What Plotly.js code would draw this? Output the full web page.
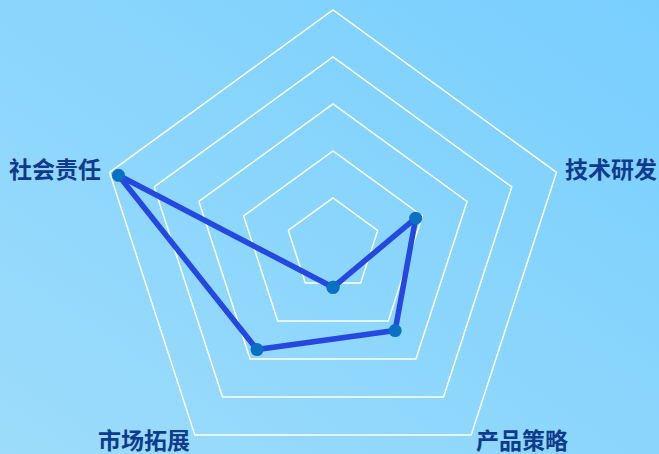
<!DOCTYPE html>
<html>
<head>
<meta charset="utf-8">
<script src="https://cdn.plot.ly/plotly-3.0.1.min.js"></script>
<style>
  html, body { margin: 0; padding: 0; overflow: hidden; }
  body { width: 659px; height: 454px; background: linear-gradient(to top right, #9ddcfb, #78cffe); }
  #radar { width: 659px; height: 480px; }
</style>
</head>
<body>
<div id="radar"></div>
<script>
// radar axes, clockwise from the top (top axis has no visible label)
var categories = [" ", "技术研发", "产品策略", "市场拓展", "社会责任"];
// scores, 0-100 scale (top one sits below the centre)
var scores = [-18, 37, 45, 55, 96];
var radialTicks = [0, 20, 40, 60, 80, 100];

// the category axis clamps negative r to the centre, so the line goes on an
// overlaid numeric polar: a negative score is drawn on the opposite side
var step = 360 / categories.length;
var thetaDeg = [], rAbs = [];
scores.forEach(function (s, i) {
  thetaDeg.push(s < 0 ? i * step + 180 : i * step);
  rAbs.push(Math.abs(s));
});
thetaDeg.push(thetaDeg[0]);
rAbs.push(rAbs[0]);

var line = {
  type: "scatterpolar",
  subplot: "polar2",
  r: rAbs,
  theta: thetaDeg,
  mode: "lines+markers",
  line: {color: "#2448e0", width: 5.5},
  marker: {color: "#0a70c2", size: 13},
  cliponaxis: false,
  hoverinfo: "skip"
};

// category polar needs every category present; an invisible trace carries them
var axisHolder = {
  type: "scatterpolar",
  subplot: "polar",
  r: categories.map(function () { return 0; }),
  theta: categories,
  mode: "markers",
  marker: {size: 0, opacity: 0},
  hoverinfo: "skip"
};

// plot area: 652 x 470 px, polar centred, outer radius 235 px
var W = 652, H = 470, R = 235;
var labelFont = {family: "Noto Sans CJK SC", size: 23, color: "#0f3a8e", weight: "bold"};
var annotations = [];
categories.forEach(function (name, i) {
  if (i === 0) return;
  var a = i * step * Math.PI / 180;
  var sx = Math.sin(a), cy = Math.cos(a);
  var k = cy < 0 ? 1.02 : 1.03;
  annotations.push({
    xref: "paper", yref: "paper",
    x: 0.5 + sx * R * k / W,
    y: 0.5 + cy * R * k / H,
    text: name,
    showarrow: false,
    xanchor: sx > 0 ? "left" : "right",
    yanchor: "middle",
    yshift: cy < 0 ? 0 : 2,
    font: labelFont
  });
});

var dom = {x: [0, 1], y: [0, 1]};

var layout = {
  width: 659,
  height: 480,
  margin: {l: 7, r: 0, t: 10, b: 0},
  paper_bgcolor: "rgba(0,0,0,0)",
  showlegend: false,
  annotations: annotations,
  polar: {
    domain: dom,
    bgcolor: "rgba(0,0,0,0)",
    gridshape: "linear",
    radialaxis: {
      range: [0, 100],
      tickvals: radialTicks,
      showticklabels: false,
      ticks: "",
      showline: false,
      gridcolor: "#ffffff",
      gridwidth: 1.5
    },
    angularaxis: {
      type: "category",
      categoryarray: categories,
      rotation: 90,
      direction: "clockwise",
      showgrid: false,
      showline: true,
      linecolor: "#ffffff",
      linewidth: 1.5,
      ticks: "",
      showticklabels: false
    }
  },
  polar2: {
    domain: dom,
    bgcolor: "rgba(0,0,0,0)",
    radialaxis: {range: [0, 100], visible: false},
    angularaxis: {
      rotation: 90,
      direction: "clockwise",
      visible: false
    }
  }
};

Plotly.newPlot("radar", [axisHolder, line], layout, {displayModeBar: false, staticPlot: true});
</script>
</body>
</html>
